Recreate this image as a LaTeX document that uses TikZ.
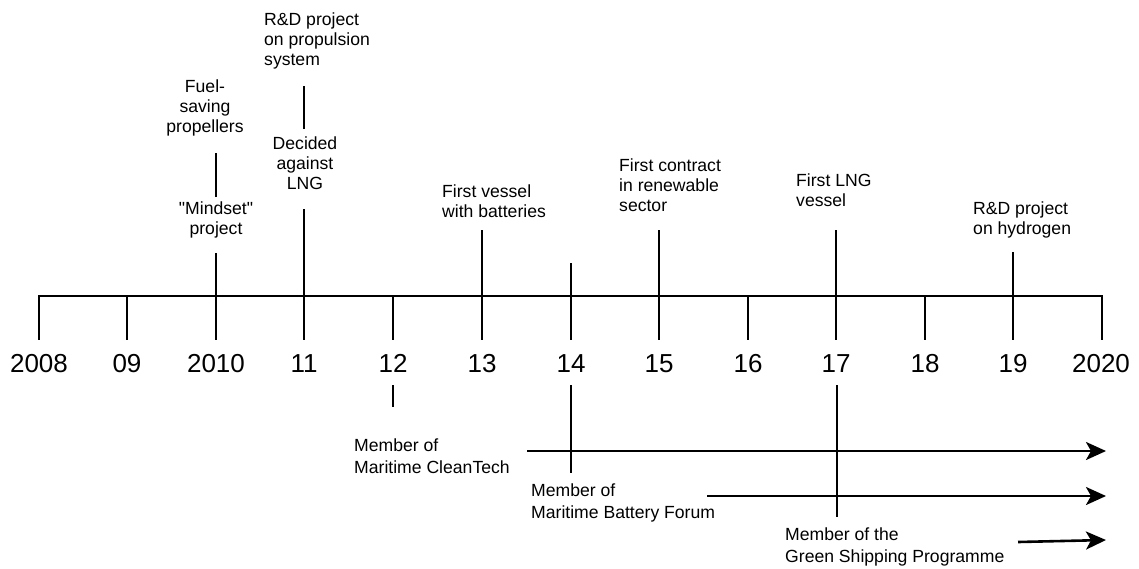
\documentclass[tikz,border=0pt]{standalone}
\usepackage{fontspec}
\setmainfont{Liberation Sans}[Ligatures=TeXOff]
\usetikzlibrary{arrows.meta}
\begin{document}
\begin{tikzpicture}[x=1pt,y=-1pt,
  axisline/.style={line width=2pt,line cap=rect},
  mark line/.style={line width=2pt},
  yearlbl/.style={font=\fontsize{26}{30}\selectfont,inner sep=0pt,anchor=base},
  evc/.style={font=\fontsize{17.6}{20}\selectfont,inner sep=0pt,align=center},
  evl/.style={font=\fontsize{17.6}{20}\selectfont,inner sep=0pt,align=left,anchor=west},
  memb/.style={font=\fontsize{17.6}{22}\selectfont,inner sep=0pt,align=left,anchor=west},
  member arrow/.style={line width=2.6pt,-{Stealth[length=20pt,width=18pt,inset=5pt]}}]
\useasboundingbox (0,0) rectangle (1139,568);
% axis points
\foreach \n/\x in {a08/39,a09/127,a10/216,a11/304,a12/393,a13/482,a14/571,a15/659,a16/748,a17/836,a18/925,a19/1013,a20/1102}{
  \coordinate (\n) at (\x,296);
  \coordinate (\n b) at (\x,340);
}
\draw[axisline] (a08) -- (a20);
\foreach \n in {a08,a09,a10,a11,a12,a13,a14,a15,a16,a17,a18,a19,a20}{
  \draw[mark line] (\n) -- (\n b);
}
% year labels
\node[yearlbl] (y08) at (39,372) {2008};
\node[yearlbl] (y09) at (127,372) {09};
\node[yearlbl] (y10) at (216,372) {2010};
\node[yearlbl] (y11) at (304,372) {11};
\node[yearlbl] (y12) at (393,372) {12};
\node[yearlbl] (y13) at (482,372) {13};
\node[yearlbl] (y14) at (571,372) {14};
\node[yearlbl] (y15) at (659,372) {15};
\node[yearlbl] (y16) at (748,372) {16};
\node[yearlbl] (y17) at (836,372) {17};
\node[yearlbl] (y18) at (925,372) {18};
\node[yearlbl] (y19) at (1013,372) {19};
\node[yearlbl] (y20) at (1101,372) {2020};
% upper event lines
\coordinate (u10) at (216,253);
\coordinate (u10a) at (216,197);
\coordinate (u10b) at (216,153);
\coordinate (u11) at (304,209);
\coordinate (u11a) at (304,129);
\coordinate (u11b) at (304,86);
\coordinate (u13) at (482,230);
\coordinate (u14) at (571,263);
\coordinate (u15) at (659,230);
\coordinate (u17) at (836,230);
\coordinate (u19) at (1013,252);
\draw[mark line] (a10) -- (u10);
\draw[mark line] (u10a) -- (u10b);
\draw[mark line] (a11) -- (u11);
\draw[mark line] (u11a) -- (u11b);
\draw[mark line] (a13) -- (u13);
\draw[mark line] (a14) -- (u14);
\draw[mark line] (a15) -- (u15);
\draw[mark line] (a17) -- (u17);
\draw[mark line] (a19) -- (u19);
% event labels
\node[evc] (fuel) at (205,108) {Fuel-\\saving\\propellers};
\node[evc] (mind) at (216,220) {"Mindset"\\project};
\node[evl] (rdprop) at (264,41) {R\&D project\\on propulsion\\system};
\node[evc] (lng) at (305,163) {Decided\\against\\LNG};
\node[evl] (vessel) at (442,201) {First vessel\\with batteries};
\node[evl] (contract) at (619,185) {First contract\\in renewable\\sector};
\node[evl] (lngv) at (796,190) {First LNG\\vessel};
\node[evl] (hydro) at (973,220) {R\&D project\\on hydrogen};
% lower lines
\coordinate (l12a) at (393,385);
\coordinate (l12b) at (393,407);
\coordinate (l14a) at (571,385);
\coordinate (l14b) at (571,473);
\coordinate (l17a) at (837,385);
\coordinate (l17b) at (837,517);
\draw[mark line] (l12a) -- (l12b);
\draw[mark line] (l14a) -- (l14b);
\draw[mark line] (l17a) -- (l17b);
% memberships
\node[memb] (mct) at (354,456) {Member of\\Maritime CleanTech};
\node[memb] (mbf) at (531,503) {Member of\\Maritime Battery Forum};
\node[memb] (gsp) at (785,547) {Member of the\\Green Shipping Programme};
\coordinate (m1s) at (527,451);
\coordinate (m1e) at (1106,451);
\coordinate (m2s) at (707,496);
\coordinate (m2e) at (1106,496);
\coordinate (m3s) at (1018,542);
\coordinate (m3e) at (1106,540);
\draw[member arrow] (m1s) -- (m1e);
\draw[member arrow] (m2s) -- (m2e);
\draw[member arrow] (m3s) -- (m3e);
\end{tikzpicture}
\end{document}
